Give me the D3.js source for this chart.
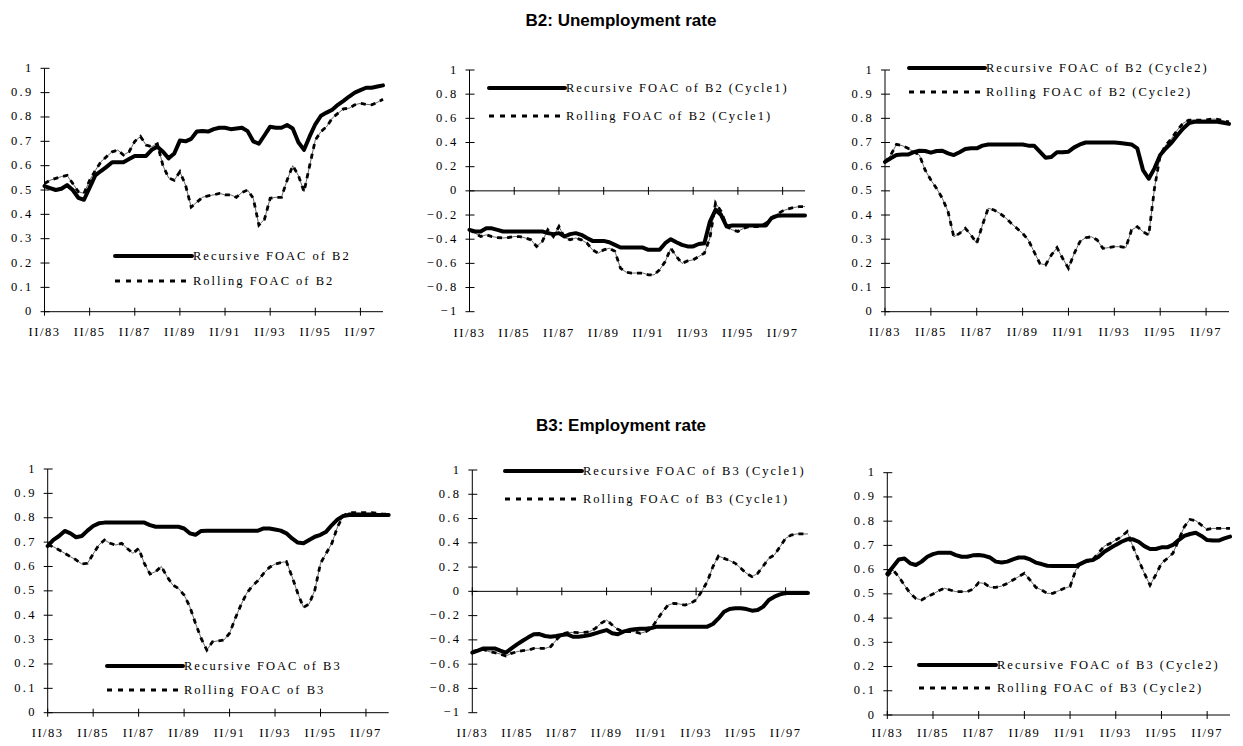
<!DOCTYPE html>
<html>
<head>
<meta charset="utf-8">
<script src="https://cdn.jsdelivr.net/npm/d3@7"></script>
<style>
  body { margin: 0; background: #fff; }
  svg { display: block; }
  .lab { font-family: "Liberation Serif", "Times New Roman", serif; font-size: 12.5px; fill: #000; letter-spacing: 1.5px; }
  .ylab { font-family: "Liberation Serif", "Times New Roman", serif; font-size: 12.5px; fill: #000; letter-spacing: 2.3px; }
  .leg { font-family: "Liberation Serif", "Times New Roman", serif; font-size: 12.5px; fill: #000; letter-spacing: 2px; }
  .title { font-family: "Liberation Sans", Arial, sans-serif; font-size: 17px; font-weight: bold; fill: #000; }
</style>
</head>
<body>
<div id="chart"></div>
<script>
// quarterly categories II/83 .. II/98
var quarters = [
  "II/83","III/83","IV/83","I/84","II/84","III/84","IV/84","I/85",
  "II/85","III/85","IV/85","I/86","II/86","III/86","IV/86","I/87",
  "II/87","III/87","IV/87","I/88","II/88","III/88","IV/88","I/89",
  "II/89","III/89","IV/89","I/90","II/90","III/90","IV/90","I/91",
  "II/91","III/91","IV/91","I/92","II/92","III/92","IV/92","I/93",
  "II/93","III/93","IV/93","I/94","II/94","III/94","IV/94","I/95",
  "II/95","III/95","IV/95","I/96","II/96","III/96","IV/96","I/97",
  "II/97","III/97","IV/97","I/98","II/98"
];
var tickLabels = ["II/83","II/85","II/87","II/89","II/91","II/93","II/95","II/97"];
var ticksPos = [0,0.1,0.2,0.3,0.4,0.5,0.6,0.7,0.8,0.9,1];
var ticksSym = [-1,-0.8,-0.6,-0.4,-0.2,0,0.2,0.4,0.6,0.8,1];

var b2Rec = [0.516,0.508,0.50,0.505,0.52,0.50,0.468,0.46,0.51,0.56,
  0.578,0.595,0.614,0.614,0.614,0.627,0.64,0.64,0.64,0.665,
  0.678,0.657,0.63,0.65,0.703,0.70,0.71,0.74,0.742,0.74,
  0.75,0.756,0.756,0.75,0.753,0.756,0.742,0.70,0.69,0.725,
  0.76,0.756,0.756,0.767,0.753,0.696,0.665,0.72,0.77,0.805,
  0.818,0.83,0.85,0.866,0.884,0.90,0.91,0.92,0.92,0.925,0.93];
var b2Roll = [0.527,0.54,0.548,0.555,0.56,0.527,0.493,0.486,0.54,0.58,
  0.616,0.637,0.657,0.664,0.644,0.657,0.70,0.72,0.685,0.678,
  0.69,0.60,0.55,0.54,0.575,0.52,0.43,0.45,0.47,0.476,
  0.48,0.486,0.48,0.48,0.47,0.49,0.50,0.466,0.356,0.38,
  0.466,0.47,0.47,0.54,0.60,0.56,0.493,0.60,0.705,0.74,
  0.76,0.795,0.815,0.833,0.836,0.85,0.856,0.852,0.85,0.86,0.873];
var b2c1Rec = [-0.323,-0.336,-0.336,-0.31,-0.31,-0.323,-0.336,-0.336,-0.336,-0.336,
  -0.336,-0.336,-0.336,-0.336,-0.35,-0.358,-0.35,-0.378,-0.358,-0.35,
  -0.364,-0.39,-0.414,-0.414,-0.414,-0.425,-0.447,-0.469,-0.469,-0.469,
  -0.469,-0.469,-0.488,-0.488,-0.488,-0.433,-0.40,-0.425,-0.447,-0.46,
  -0.46,-0.44,-0.433,-0.254,-0.157,-0.20,-0.295,-0.287,-0.287,-0.287,
  -0.287,-0.287,-0.287,-0.287,-0.226,-0.207,-0.204,-0.204,-0.204,-0.204,-0.204];
var b2c1Roll = [-0.323,-0.35,-0.378,-0.364,-0.378,-0.386,-0.39,-0.386,-0.378,-0.378,
  -0.39,-0.405,-0.46,-0.42,-0.323,-0.378,-0.295,-0.386,-0.405,-0.39,
  -0.405,-0.433,-0.488,-0.516,-0.488,-0.475,-0.50,-0.64,-0.673,-0.68,
  -0.68,-0.68,-0.695,-0.695,-0.654,-0.585,-0.475,-0.543,-0.60,-0.58,
  -0.571,-0.543,-0.516,-0.39,-0.10,-0.17,-0.295,-0.323,-0.336,-0.31,
  -0.295,-0.295,-0.295,-0.268,-0.226,-0.193,-0.166,-0.15,-0.138,-0.13,-0.13];
var b2c2Rec = [0.62,0.635,0.648,0.65,0.65,0.66,0.666,0.665,0.658,0.665,
  0.666,0.655,0.648,0.66,0.673,0.676,0.676,0.687,0.692,0.692,
  0.692,0.692,0.692,0.692,0.692,0.687,0.687,0.662,0.637,0.64,
  0.66,0.66,0.662,0.68,0.692,0.70,0.70,0.70,0.70,0.70,
  0.70,0.698,0.695,0.692,0.676,0.586,0.55,0.593,0.648,0.676,
  0.70,0.73,0.758,0.78,0.786,0.786,0.786,0.786,0.786,0.782,0.777];
var b2c2Roll = [0.618,0.648,0.692,0.687,0.676,0.662,0.648,0.586,0.545,0.51,
  0.469,0.414,0.31,0.324,0.345,0.317,0.283,0.359,0.428,0.421,
  0.407,0.389,0.366,0.345,0.324,0.297,0.248,0.20,0.193,0.234,
  0.265,0.22,0.18,0.241,0.29,0.306,0.31,0.297,0.262,0.265,
  0.269,0.269,0.265,0.338,0.352,0.331,0.317,0.51,0.648,0.69,
  0.717,0.752,0.78,0.793,0.793,0.793,0.793,0.797,0.796,0.79,0.785];
var b3Rec = [0.684,0.709,0.725,0.746,0.736,0.72,0.725,0.747,0.766,0.777,
  0.78,0.78,0.78,0.78,0.78,0.78,0.78,0.78,0.77,0.763,
  0.763,0.763,0.763,0.763,0.756,0.736,0.73,0.746,0.747,0.747,
  0.747,0.747,0.747,0.747,0.747,0.747,0.747,0.747,0.756,0.756,
  0.752,0.747,0.736,0.715,0.698,0.695,0.709,0.722,0.73,0.743,
  0.77,0.793,0.807,0.811,0.811,0.811,0.811,0.811,0.811,0.811,0.811];
var b3Roll = [0.688,0.681,0.668,0.654,0.64,0.627,0.61,0.613,0.651,0.688,
  0.709,0.695,0.688,0.695,0.674,0.654,0.674,0.613,0.569,0.579,
  0.60,0.558,0.524,0.51,0.483,0.435,0.367,0.305,0.257,0.291,
  0.295,0.298,0.326,0.387,0.442,0.49,0.52,0.542,0.572,0.596,
  0.61,0.616,0.62,0.558,0.49,0.432,0.446,0.503,0.613,0.654,
  0.695,0.763,0.807,0.821,0.821,0.821,0.821,0.821,0.818,0.815,0.814];
var b3c1Rec = [-0.505,-0.489,-0.47,-0.47,-0.47,-0.489,-0.505,-0.47,-0.437,-0.407,
  -0.379,-0.354,-0.352,-0.368,-0.374,-0.368,-0.36,-0.354,-0.374,-0.374,
  -0.368,-0.36,-0.346,-0.332,-0.319,-0.346,-0.354,-0.332,-0.319,-0.313,
  -0.308,-0.308,-0.302,-0.291,-0.291,-0.291,-0.291,-0.291,-0.291,-0.291,
  -0.291,-0.291,-0.291,-0.269,-0.223,-0.168,-0.146,-0.14,-0.14,-0.146,
  -0.159,-0.154,-0.126,-0.071,-0.044,-0.025,-0.014,-0.014,-0.014,-0.014,-0.014];
var b3c1Roll = [-0.497,-0.484,-0.478,-0.497,-0.505,-0.516,-0.533,-0.511,-0.497,-0.489,
  -0.484,-0.47,-0.47,-0.47,-0.456,-0.401,-0.352,-0.34,-0.338,-0.34,
  -0.338,-0.332,-0.305,-0.264,-0.236,-0.277,-0.313,-0.332,-0.332,-0.332,
  -0.346,-0.332,-0.305,-0.236,-0.168,-0.113,-0.099,-0.104,-0.113,-0.099,
  -0.071,0.0,0.08,0.203,0.291,0.272,0.253,0.231,0.19,0.148,
  0.121,0.148,0.209,0.272,0.30,0.368,0.437,0.464,0.473,0.473,0.473];
var b3c2Rec = [0.582,0.612,0.642,0.646,0.626,0.619,0.633,0.653,0.664,0.67,
  0.67,0.67,0.66,0.653,0.653,0.659,0.66,0.657,0.65,0.633,
  0.629,0.633,0.642,0.65,0.65,0.642,0.629,0.623,0.616,0.615,
  0.615,0.615,0.615,0.615,0.626,0.637,0.64,0.653,0.674,0.688,
  0.702,0.715,0.725,0.725,0.715,0.697,0.685,0.685,0.692,0.692,
  0.702,0.722,0.739,0.747,0.752,0.739,0.722,0.72,0.72,0.729,0.736];
var b3c2Roll = [0.574,0.598,0.571,0.536,0.502,0.481,0.475,0.488,0.499,0.513,
  0.523,0.516,0.509,0.509,0.509,0.519,0.546,0.543,0.527,0.527,
  0.532,0.543,0.557,0.571,0.585,0.557,0.527,0.516,0.502,0.502,
  0.513,0.523,0.53,0.598,0.633,0.633,0.642,0.67,0.697,0.708,
  0.722,0.736,0.757,0.695,0.64,0.585,0.536,0.578,0.626,0.646,
  0.667,0.722,0.777,0.807,0.802,0.784,0.766,0.77,0.77,0.77,0.77];

var W = 1243, H = 746;
var svg = d3.select("#chart").append("svg")
    .attr("width", W)
    .attr("height", H);

svg.append("text").attr("class", "title")
    .attr("x", 621).attr("y", 26).attr("text-anchor", "middle")
    .text("B2: Unemployment rate");
svg.append("text").attr("class", "title")
    .attr("x", 621).attr("y", 431).attr("text-anchor", "middle")
    .text("B3: Employment rate");

// panel layout (positions only)
var panels = [
  { l: 44.5, r: 383, t: 68.3, b: 311.7, dom: [0, 1], ticks: ticksPos, labY: 336,
    rec: b2Rec, roll: b2Roll, recName: "Recursive FOAC of B2", rollName: "Rolling FOAC of B2",
    lg: { x1: 115, x2: 192, y1: 256, y2: 281 } },
  { l: 469.5, r: 805, t: 70, b: 311.7, dom: [-1, 1], ticks: ticksSym, labY: 337,
    rec: b2c1Rec, roll: b2c1Roll, recName: "Recursive FOAC of B2 (Cycle1)", rollName: "Rolling FOAC of B2 (Cycle1)",
    lg: { x1: 489, x2: 565, y1: 88, y2: 116 } },
  { l: 885, r: 1229, t: 70, b: 311.7, dom: [0, 1], ticks: ticksPos, labY: 336,
    rec: b2c2Rec, roll: b2c2Roll, recName: "Recursive FOAC of B2 (Cycle2)", rollName: "Rolling FOAC of B2 (Cycle2)",
    lg: { x1: 909, x2: 985, y1: 68, y2: 92 } },
  { l: 47.7, r: 388.7, t: 469, b: 712.7, dom: [0, 1], ticks: ticksPos, labY: 737,
    rec: b3Rec, roll: b3Roll, recName: "Recursive FOAC of B3", rollName: "Rolling FOAC of B3",
    lg: { x1: 107, x2: 183, y1: 666, y2: 690 } },
  { l: 472.3, r: 808, t: 470, b: 712.7, dom: [-1, 1], ticks: ticksSym, labY: 737,
    rec: b3c1Rec, roll: b3c1Roll, recName: "Recursive FOAC of B3 (Cycle1)", rollName: "Rolling FOAC of B3 (Cycle1)",
    lg: { x1: 505, x2: 582, y1: 471, y2: 499 } },
  { l: 887.3, r: 1230, t: 472.7, b: 715, dom: [0, 1], ticks: ticksPos, labY: 737,
    rec: b3c2Rec, roll: b3c2Roll, recName: "Recursive FOAC of B3 (Cycle2)", rollName: "Rolling FOAC of B3 (Cycle2)",
    lg: { x1: 919, x2: 996, y1: 665, y2: 688 } }
];

var fmt = function(d) {
  if (d === 0) return "0";
  if (d === 1) return "1";
  if (d === -1) return "\u22121";
  return d3.format(".1f")(d);
};

panels.forEach(function(p) {
  var g = svg.append("g");
  var x = d3.scalePoint().domain(quarters).range([p.l, p.r]);
  var y = d3.scaleLinear().domain(p.dom).range([p.b, p.t]);
  var y0 = y(0);

  // y axis
  g.append("line").attr("x1", p.l).attr("x2", p.l).attr("y1", p.t).attr("y2", p.b)
      .attr("stroke", "#000").attr("stroke-width", 1);
  g.selectAll(".yt").data(p.ticks).enter().append("line")
      .attr("x1", p.l - 4).attr("x2", p.l + 5)
      .attr("y1", function(d) { return y(d); }).attr("y2", function(d) { return y(d); })
      .attr("stroke", "#000").attr("stroke-width", 1);
  g.selectAll(".yl").data(p.ticks).enter().append("text")
      .attr("class", "ylab")
      .attr("x", p.l - 11).attr("y", function(d) { return y(d); })
      .attr("dy", "0.28em").attr("text-anchor", "end")
      .text(fmt);

  // x axis at zero
  g.append("line").attr("x1", p.l).attr("x2", p.r).attr("y1", y0).attr("y2", y0)
      .attr("stroke", "#000").attr("stroke-width", 1);
  g.selectAll(".xt").data(tickLabels).enter().append("line")
      .attr("x1", function(d) { return x(d); }).attr("x2", function(d) { return x(d); })
      .attr("y1", y0 - 4).attr("y2", y0 + 4)
      .attr("stroke", "#000").attr("stroke-width", 1);
  g.selectAll(".xl").data(tickLabels).enter().append("text")
      .attr("class", "lab")
      .attr("x", function(d) { return x(d); }).attr("y", p.labY)
      .attr("text-anchor", "middle")
      .text(function(d) { return d; });

  var line = d3.line()
      .x(function(d, i) { return x(quarters[i]); })
      .y(function(d) { return y(d); });

  // rolling: thin underlay + thick dashes
  g.append("path").datum(p.roll).attr("d", line)
      .attr("fill", "none").attr("stroke", "#000").attr("stroke-width", 0.6);
  g.append("path").datum(p.roll).attr("d", line)
      .attr("fill", "none").attr("stroke", "#000").attr("stroke-width", 2.8)
      .attr("stroke-dasharray", "5,5");
  // recursive: thick solid
  g.append("path").datum(p.rec).attr("d", line)
      .attr("fill", "none").attr("stroke", "#000").attr("stroke-width", 4)
      .attr("stroke-linejoin", "round").attr("stroke-linecap", "round");

  // legend
  g.append("line").attr("x1", p.lg.x1).attr("x2", p.lg.x2).attr("y1", p.lg.y1).attr("y2", p.lg.y1)
      .attr("stroke", "#000").attr("stroke-width", 4).attr("stroke-linecap", "round");
  g.append("line").attr("x1", p.lg.x1).attr("x2", p.lg.x2).attr("y1", p.lg.y2).attr("y2", p.lg.y2)
      .attr("stroke", "#000").attr("stroke-width", 2.8).attr("stroke-dasharray", "5,6");
  g.append("text").attr("class", "leg").attr("x", p.lg.x2 + 1).attr("y", p.lg.y1).attr("dy", "0.35em")
      .text(p.recName);
  g.append("text").attr("class", "leg").attr("x", p.lg.x2 + 1).attr("y", p.lg.y2).attr("dy", "0.35em")
      .text(p.rollName);
});
</script>
</body>
</html>
